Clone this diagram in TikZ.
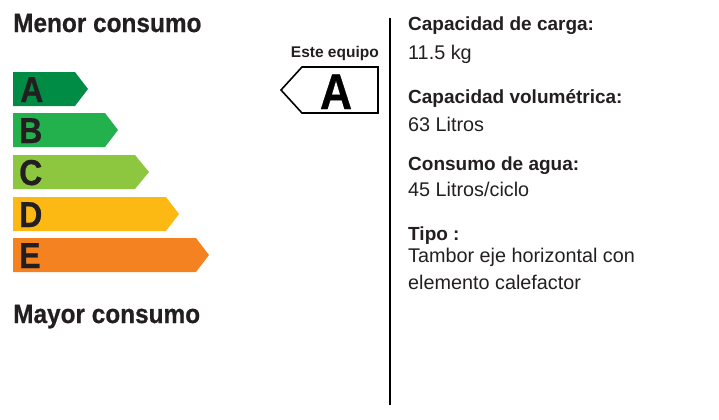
\documentclass[tikz,border=0pt]{standalone}
\usepackage{fontspec}
\setmainfont{Liberation Sans}
\newfontfamily\lsb{Liberation Sans Bold}
\newfontfamily\lsbc{Liberation Sans Bold}[FakeStretch=0.92,FakeBold=0.6]
\newfontfamily\lsbcc{Liberation Sans Bold}[FakeStretch=0.89,FakeBold=0.6]
\definecolor{cA}{RGB}{0,140,68}
\definecolor{cB}{RGB}{35,177,77}
\definecolor{cC}{RGB}{141,198,63}
\definecolor{cD}{RGB}{253,185,19}
\definecolor{cE}{RGB}{245,130,32}
\definecolor{txt}{RGB}{35,31,32}
\begin{document}
\begin{tikzpicture}[x=1bp,y=-1bp,
  lbl/.style={anchor=base west,inner sep=0pt,text=txt},
  head/.style={lbl,font=\lsbc\fontsize{26.5bp}{30bp}\selectfont},
  bartxt/.style={lbl,font=\lsbcc\fontsize{36bp}{38bp}\selectfont},
  ttl/.style={lbl,font=\lsb\fontsize{19bp}{22bp}\selectfont},
  val/.style={lbl,font=\fontsize{19.8bp}{22bp}\selectfont}]
\useasboundingbox (0,0) rectangle (719,419);
% headings
\node[head] (menor) at (13,32) {Menor consumo};
\node[head] (mayor) at (13,323) {Mayor consumo};
% bars
\fill[cA] (13,72) -- (75,72) -- (88,89) -- (75,106) -- (13,106) -- cycle;
\fill[cB] (13,113) -- (105,113) -- (118,130) -- (105,147) -- (13,147) -- cycle;
\fill[cC] (13,155) -- (135,155) -- (149,172) -- (135,189) -- (13,189) -- cycle;
\fill[cD] (13,197) -- (166,197) -- (179,214) -- (166,231) -- (13,231) -- cycle;
\fill[cE] (13,238) -- (196,238) -- (209,255) -- (196,272) -- (13,272) -- cycle;
\node[bartxt] (la) at (20,102) {A};
\node[bartxt] (lb) at (19,143) {B};
\node[bartxt] (lc) at (19,185) {C};
\node[bartxt] (ld) at (19,227) {D};
\node[bartxt] (le) at (19,268) {E};
% this appliance
\node[lbl,anchor=base east,font=\lsb\fontsize{15.5bp}{17bp}\selectfont] (este) at (379,57) {Este equipo};
\draw[line width=1.6bp,black] (302,67) -- (378,67) -- (378,113) -- (302,113) -- (281,90) -- cycle;
\node[lbl,anchor=base,font=\lsbcc\fontsize{50bp}{52bp}\selectfont,text=black] (big) at (336,109) {A};
% divider
\draw[line width=1.3bp,black] (390,18) -- (390,405);
% right texts
\node[ttl] (t1) at (408,30.7) {Capacidad de carga:};
\node[val] (v1) at (408,59.3) {11.5 kg};
\node[ttl] (t2) at (408,103.6) {Capacidad volumétrica:};
\node[val] (v2) at (408,131) {63 Litros};
\node[ttl] (t3) at (408,170.6) {Consumo de agua:};
\node[val] (v3) at (408,196) {45 Litros/ciclo};
\node[ttl] (t4) at (408,240.5) {Tipo :};
\node[val] (v4) at (408,262.7) {Tambor eje horizontal con};
\node[val] (v5) at (408,289) {elemento calefactor};
\end{tikzpicture}
\end{document}
